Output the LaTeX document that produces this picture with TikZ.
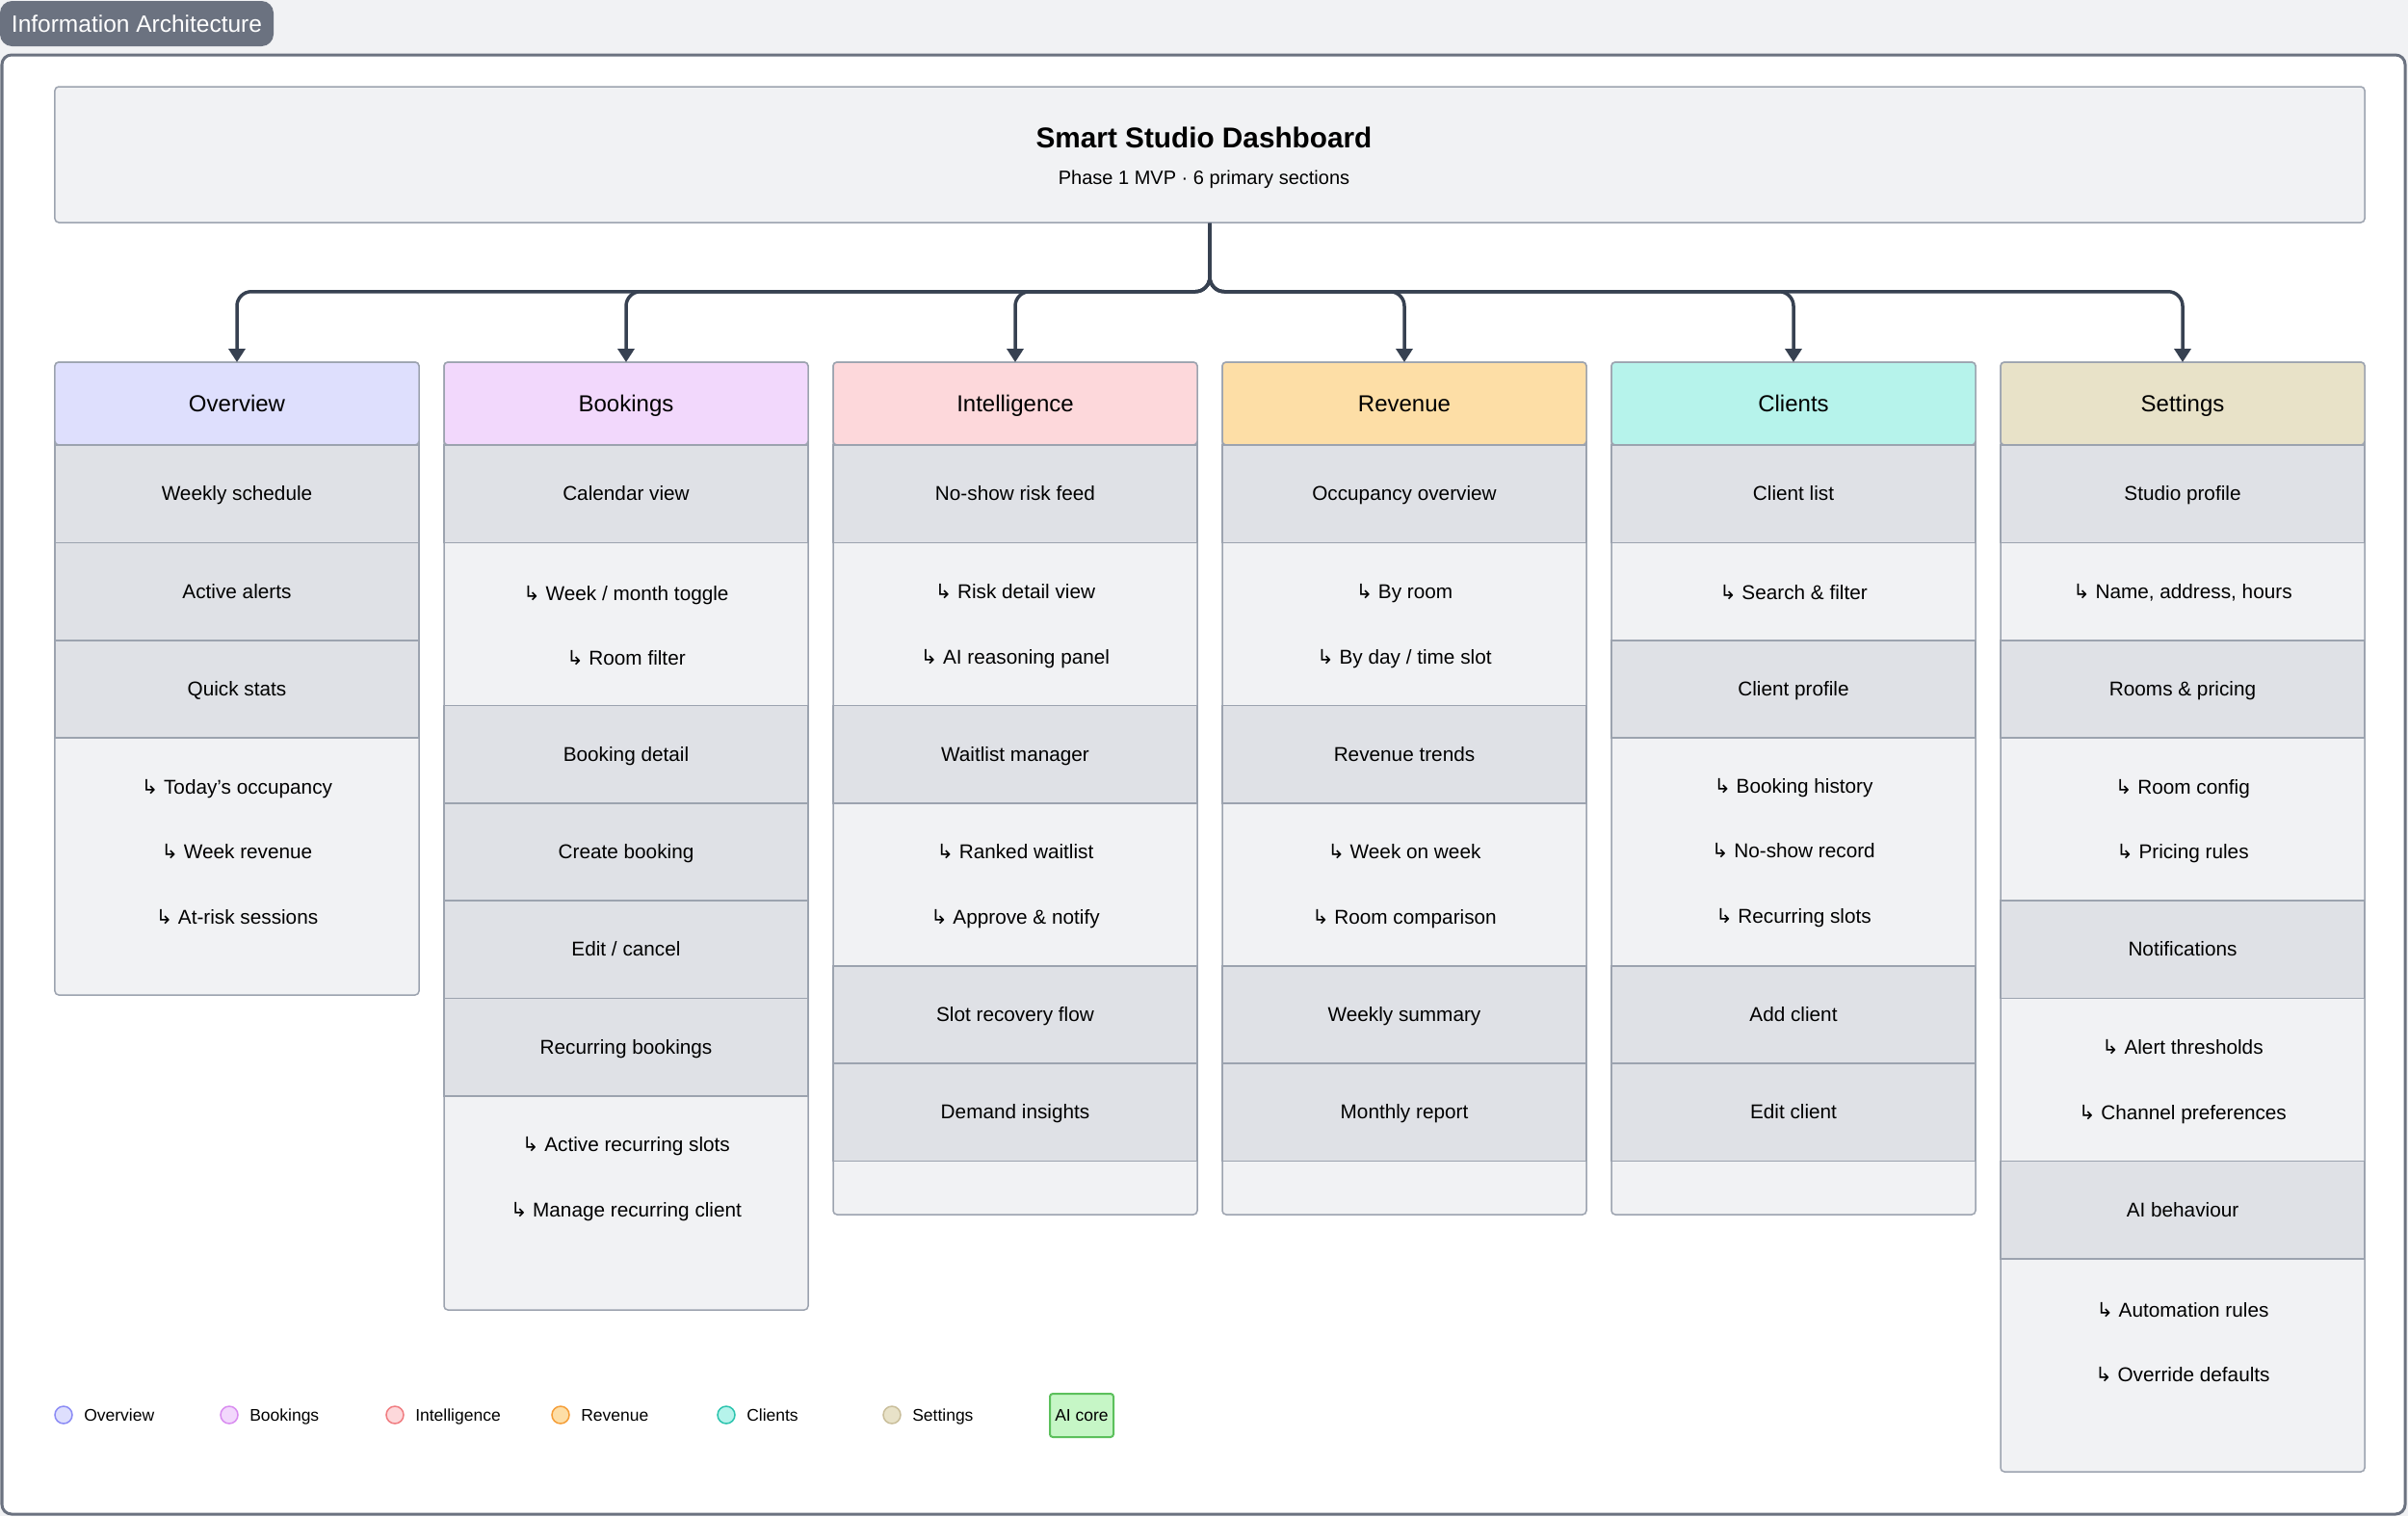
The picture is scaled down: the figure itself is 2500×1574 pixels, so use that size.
\documentclass[tikz,border=0pt]{standalone}
\usepackage{fontspec}
\setmainfont{Liberation Sans}
\newfontfamily\arrowfont{DejaVu Sans}
\usetikzlibrary{arrows.meta,positioning}

\definecolor{pagebg}{HTML}{F1F2F4}
\definecolor{frameline}{HTML}{6B7280}
\definecolor{boxline}{HTML}{9CA3AF}
\definecolor{rowdark}{HTML}{DFE1E6}
\definecolor{rowlight}{HTML}{F1F2F4}
\definecolor{linkcol}{HTML}{374151}
\definecolor{ovfill}{HTML}{DEDFFD}
\definecolor{bkfill}{HTML}{F2D8FC}
\definecolor{infill}{HTML}{FDD8DB}
\definecolor{rvfill}{HTML}{FDDEA6}
\definecolor{clfill}{HTML}{B6F3EB}
\definecolor{stfill}{HTML}{E8E2C8}
\definecolor{ovline}{HTML}{8B8BF5}
\definecolor{bkline}{HTML}{D98CF0}
\definecolor{inline}{HTML}{F07C80}
\definecolor{rvline}{HTML}{F59E38}
\definecolor{clline}{HTML}{2BC4AE}
\definecolor{stline}{HTML}{C9BE9A}
\definecolor{aifill}{HTML}{C6F6C6}
\definecolor{ailine}{HTML}{5CC05C}

\newcommand\subarrow{{\arrowfont ↳}\ }

\begin{document}
\begin{tikzpicture}[x=0.4pt,y=-0.4pt,
  colbox/.style={draw=boxline,fill=rowlight,line width=0.6pt,rounded corners=1.6pt,minimum width=151.2pt,anchor=north,inner sep=0pt,outer sep=0pt},
  head/.style={draw=boxline,line width=0.6pt,rounded corners=1.6pt,minimum width=151.2pt,minimum height=34.4pt,font=\fontsize{9.6}{11}\selectfont,outer sep=0pt,text height=8.3pt,text depth=1.8pt},
  item/.style={draw=boxline,fill=rowdark,line width=0.6pt,minimum width=151.2pt,minimum height=40.56pt,font=\fontsize{8.3}{10}\selectfont,outer sep=0pt,text height=7pt,text depth=1.4pt},
  subs/.style={minimum width=151.2pt,align=center,font=\fontsize{8.3}{27.1}\selectfont},
  link/.style={draw=linkcol,line width=1.4pt,rounded corners=6pt,-{Triangle[length=5.6pt,width=6.8pt]}},
  dot/.style={circle,minimum size=7.2pt,inner sep=0pt,line width=0.6pt},
  legtext/.style={inner sep=0pt,font=\fontsize{7}{8}\selectfont,text height=6.4pt,text depth=1.4pt},
]
\useasboundingbox (0,0) rectangle (2500,1574);
\fill[pagebg] (0,0) rectangle (2500,1574);
\draw[frameline,line width=1.2pt,fill=white,rounded corners=4pt] (2,57) rectangle (2497,1572);
\node[fill=frameline,rounded corners=5pt,text=white,font=\fontsize{9.8}{12}\selectfont,minimum width=113.6pt,minimum height=18.8pt,inner sep=0pt] (tag) at (142,24.5) {Information Architecture};

% root
\node[draw=boxline,fill=rowlight,line width=0.6pt,rounded corners=1.6pt,minimum width=959.2pt,minimum height=56.4pt] (dash) at (1256,160.5) {};
\node[font=\fontsize{11.9}{14}\selectfont\bfseries] (dashname) at (1250,143) {Smart Studio Dashboard};
\node[font=\fontsize{8}{10}\selectfont] (dashsub) at (1250,186) {Phase 1 MVP · 6 primary sections};

% overview
\node[colbox,minimum height=262.8pt] (ovcol) at (246,376) {};
\node[head,fill=ovfill] (ovhead) at (246,419) {Overview};
\node[item] (ov1) at (246,512.7) {Weekly schedule};
\node[item] (ov2) at (246,614.1) {Active alerts};
\node[item] (ov3) at (246,715.5) {Quick stats};
\node[subs] (ov4) at (246,884.5) {\subarrow Today's occupancy\\\subarrow Week revenue\\\subarrow At-risk sessions};

% bookings
\node[colbox,minimum height=393.6pt] (bkcol) at (650,376) {};
\node[head,fill=bkfill] (bkhead) at (650,419) {Bookings};
\node[item] (bk1) at (650,512.7) {Calendar view};
\node[subs] (bk2) at (650,649.5) {\subarrow Week / month toggle\\\subarrow Room filter};
\node[item] (bk3) at (650,783.1) {Booking detail};
\node[item] (bk4) at (650,884.5) {Create booking};
\node[item] (bk5) at (650,985.9) {Edit / cancel};
\node[item] (bk6) at (650,1087.3) {Recurring bookings};
\node[subs] (bk7) at (650,1224) {\subarrow Active recurring slots\\\subarrow Manage recurring client};

% intelligence
\node[colbox,minimum height=354pt] (incol) at (1054,376) {};
\node[head,fill=infill] (inhead) at (1054,419) {Intelligence};
\node[item] (in1) at (1054,512.7) {No-show risk feed};
\node[subs] (in2) at (1054,650) {\subarrow Risk detail view\\\subarrow AI reasoning panel};
\node[item] (in3) at (1054,783.1) {Waitlist manager};
\node[subs] (in4) at (1054,920) {\subarrow Ranked waitlist\\\subarrow Approve \& notify};
\node[item] (in5) at (1054,1053.5) {Slot recovery flow};
\node[item] (in6) at (1054,1154.9) {Demand insights};

% revenue
\node[colbox,minimum height=354pt] (rvcol) at (1458,376) {};
\node[head,fill=rvfill] (rvhead) at (1458,419) {Revenue};
\node[item] (rv1) at (1458,512.7) {Occupancy overview};
\node[subs] (rv2) at (1458,650) {\subarrow By room\\\subarrow By day / time slot};
\node[item] (rv3) at (1458,783.1) {Revenue trends};
\node[subs] (rv4) at (1458,920) {\subarrow Week on week\\\subarrow Room comparison};
\node[item] (rv5) at (1458,1053.5) {Weekly summary};
\node[item] (rv6) at (1458,1154.9) {Monthly report};

% clients
\node[colbox,minimum height=354pt] (clcol) at (1862,376) {};
\node[head,fill=clfill] (clhead) at (1862,419) {Clients};
\node[item] (cl1) at (1862,512.7) {Client list};
\node[subs] (cl2) at (1862,615) {\subarrow Search \& filter};
\node[item] (cl3) at (1862,715.5) {Client profile};
\node[subs] (cl4) at (1862,885.5) {\subarrow Booking history\\\subarrow No-show record\\\subarrow Recurring slots};
\node[item] (cl5) at (1862,1053.5) {Add client};
\node[item] (cl6) at (1862,1154.9) {Edit client};

% settings
\node[colbox,minimum height=460.8pt] (stcol) at (2266,376) {};
\node[head,fill=stfill] (sthead) at (2266,419) {Settings};
\node[item] (st1) at (2266,512.7) {Studio profile};
\node[subs] (st2) at (2266,615) {\subarrow Name, address, hours};
\node[item] (st3) at (2266,715.5) {Rooms \& pricing};
\node[subs] (st4) at (2266,852.5) {\subarrow Room config\\\subarrow Pricing rules};
\node[item] (st5) at (2266,985.9) {Notifications};
\node[subs] (st6) at (2266,1123) {\subarrow Alert thresholds\\\subarrow Channel preferences};
\node[item] (st7) at (2266,1256.3) {AI behaviour};
\node[subs] (st8) at (2266,1393.5) {\subarrow Automation rules\\\subarrow Override defaults};

% links
\draw[link] (dash.south) -- ++(0,71) -| (ovhead.north);
\draw[link] (dash.south) -- ++(0,71) -| (bkhead.north);
\draw[link] (dash.south) -- ++(0,71) -| (inhead.north);
\draw[link] (dash.south) -- ++(0,71) -| (rvhead.north);
\draw[link] (dash.south) -- ++(0,71) -| (clhead.north);
\draw[link] (dash.south) -- ++(0,71) -| (sthead.north);

% legend
\node[dot,fill=ovfill,draw=ovline] (lgov) at (66,1469) {};
\node[legtext,right=4.4pt of lgov] (lgovtxt) {Overview};
\node[dot,fill=bkfill,draw=bkline] (lgbk) at (238,1469) {};
\node[legtext,right=4.4pt of lgbk] (lgbktxt) {Bookings};
\node[dot,fill=infill,draw=inline] (lgin) at (410,1469) {};
\node[legtext,right=4.4pt of lgin] (lgintxt) {Intelligence};
\node[dot,fill=rvfill,draw=rvline] (lgrv) at (582,1469) {};
\node[legtext,right=4.4pt of lgrv] (lgrvtxt) {Revenue};
\node[dot,fill=clfill,draw=clline] (lgcl) at (754,1469) {};
\node[legtext,right=4.4pt of lgcl] (lgcltxt) {Clients};
\node[dot,fill=stfill,draw=stline] (lgst) at (926,1469) {};
\node[legtext,right=4.4pt of lgst] (lgsttxt) {Settings};
\node[draw=ailine,fill=aifill,line width=0.8pt,rounded corners=1.2pt,minimum width=26.4pt,minimum height=18pt,inner sep=0pt,font=\fontsize{7}{8}\selectfont] (aicore) at (1123,1469.5) {AI core};
\end{tikzpicture}
\end{document}
